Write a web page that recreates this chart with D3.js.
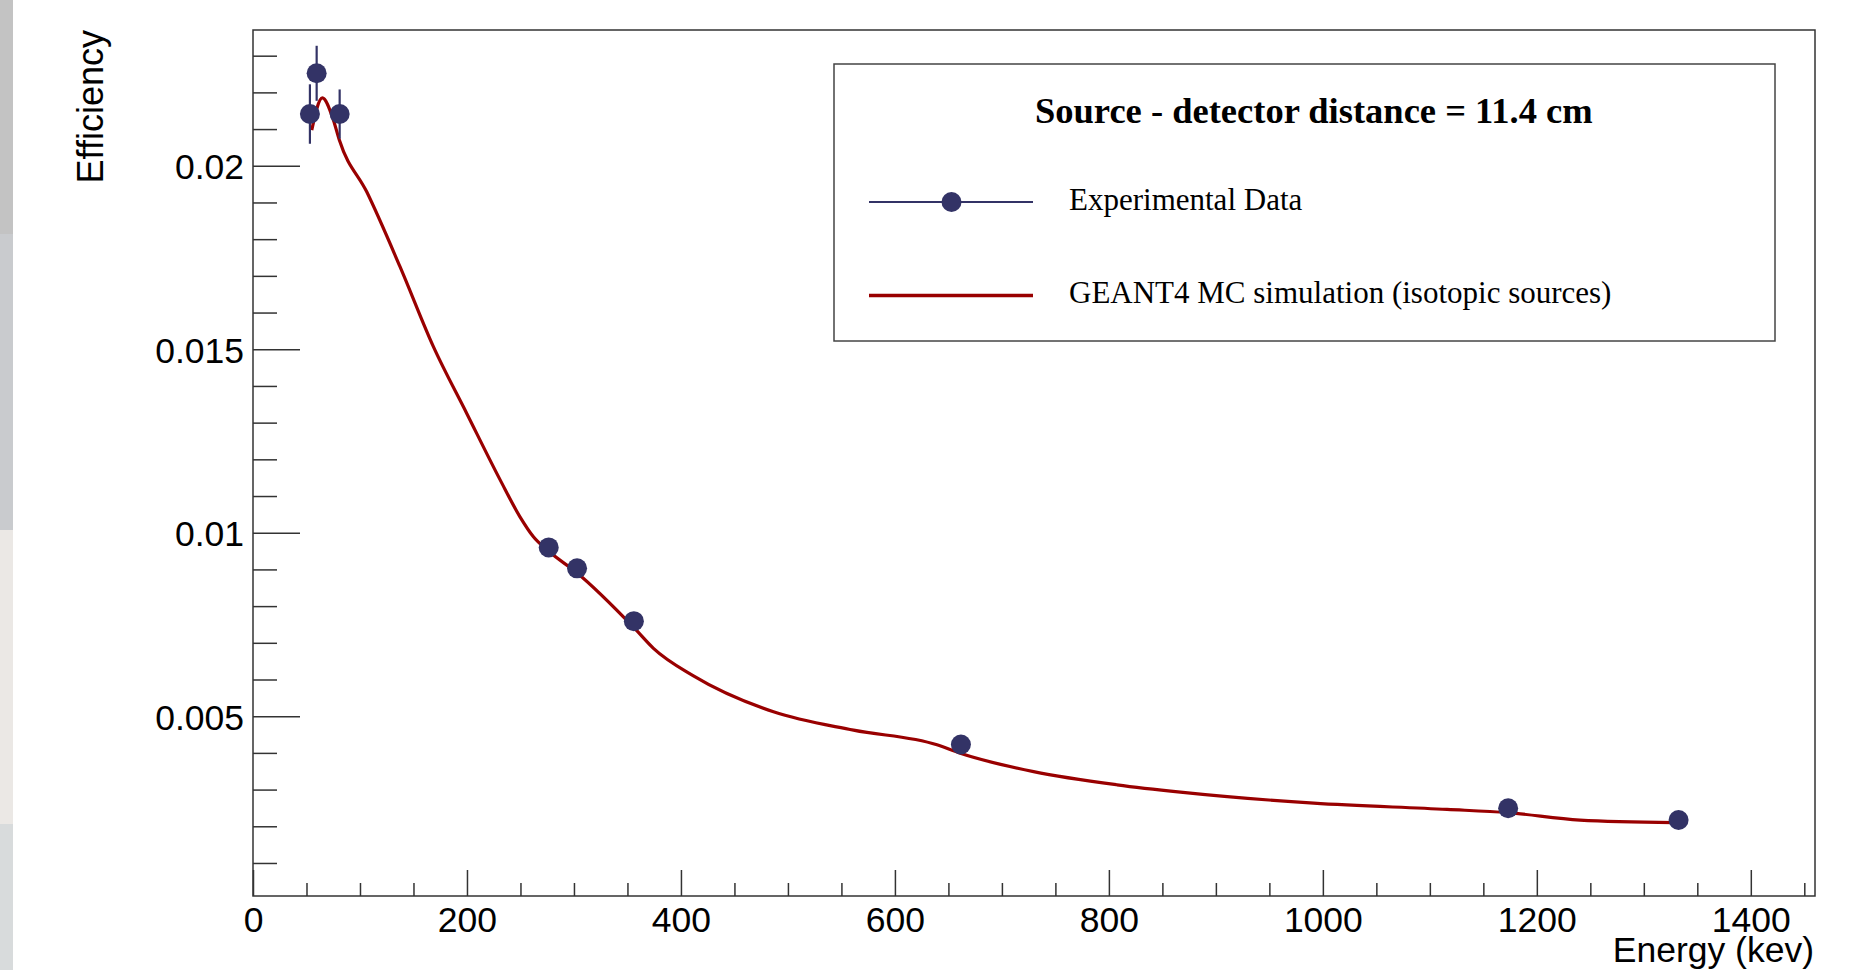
<!DOCTYPE html>
<html>
<head>
<meta charset="utf-8">
<script src="https://cdn.jsdelivr.net/npm/d3@7"></script>
<style>
  body { margin: 0; background: #ffffff; }
  svg { display: block; }
  .axis text { font-family: "Liberation Sans", Arial, sans-serif; font-size: 35.5px; fill: #000; }
  .axis line { stroke: #333; stroke-width: 1.5; }
</style>
</head>
<body>
<svg id="svg1" width="1872" height="970"></svg>
<script>
"use strict";

// experimental points (energy keV, efficiency, error)
const expEnergy = [53.2, 59.5, 81.0, 276.4, 302.9, 356.0, 661.7, 1173.2, 1332.5];
const expEff    = [0.02141, 0.02252, 0.02141, 0.00960, 0.00903, 0.00759, 0.00423, 0.00249, 0.00217];
const expErr    = [0.00081, 0.00075, 0.00067, 0.00020, 0.00020, 0.00020, 0.00010, 0.00010, 0.00010];

// GEANT4 simulation curve
const simEnergy = [54.9, 64.8, 75.1, 80.7, 106.3, 137.4, 168.6, 199.8, 231.0, 249.4, 262.1, 277.0,
                   302.7, 356.5, 374.3, 411.7, 486.5, 561.3, 639.3, 661.1, 729.6, 807.6, 866.8,
                   991.4, 1116.1, 1173.0, 1240.3, 1328.0];
const simEff    = [0.02097, 0.02185, 0.02125, 0.02070, 0.01929, 0.01725, 0.01507, 0.01325, 0.01144,
                   0.01044, 0.00989, 0.00948, 0.00891, 0.00740, 0.00685, 0.00610, 0.00512, 0.00462,
                   0.00422, 0.00399, 0.00349, 0.00313, 0.00293, 0.00263, 0.00246, 0.00237, 0.00217,
                   0.00210];

// axis ticks
const xMajor = [0, 200, 400, 600, 800, 1000, 1200, 1400];
const xMinor = d3.range(50, 1460, 50).filter(v => v % 200 != 0);
const yMajor = [0.005, 0.01, 0.015, 0.02];
const yMinor = d3.range(1, 24).map(v => v / 1000).filter(v => Math.round(v * 1000) % 5 != 0);

const svg    = d3.select("#svg1"),
      margin = {top: 30, right: 57, bottom: 74, left: 253},
      width  = +svg.attr("width")  - margin.left - margin.right,
      height = +svg.attr("height") - margin.top  - margin.bottom,
      x      = d3.scaleLinear().domain([0, 1460]).range([0, width]),
      y      = d3.scaleLinear().domain([0.0001, 0.0237]).range([height, 0]);

// grey strip of the background photo on the far left
const stripColors = ["#c3c3c3", "#c9cbce", "#ebe8e5", "#d8dbdc"];
const stripEdges  = [0, 234, 530, 824, 970];
svg.selectAll(".strip")
    .data(stripColors)
    .enter().append("rect")
    .attr("class", "strip")
    .attr("x", 0).attr("width", 13)
    .attr("y", (d, i) => stripEdges[i])
    .attr("height", (d, i) => stripEdges[i + 1] - stripEdges[i])
    .style("fill", d => d);

const g = svg.append("g").attr("transform", `translate(${margin.left},${margin.top})`);

// frame
g.append("rect")
    .attr("width", width).attr("height", height)
    .style("fill", "none").style("stroke", "#333").style("stroke-width", 1.5);

// x axis, ticks pointing inwards like ROOT
const xAxis = g.append("g")
    .attr("class", "axis")
    .attr("transform", `translate(0,${height})`)
    .call(d3.axisBottom(x).tickValues(xMajor).tickSize(-26).tickSizeOuter(0).tickPadding(11).tickFormat(d3.format("d")));
xAxis.select(".domain").remove();

const xAxisMinor = g.append("g")
    .attr("class", "axis")
    .attr("transform", `translate(0,${height})`)
    .call(d3.axisBottom(x).tickValues(xMinor).tickSize(-13).tickSizeOuter(0).tickFormat(""));
xAxisMinor.select(".domain").remove();

// y axis
const yAxis = g.append("g")
    .attr("class", "axis")
    .call(d3.axisLeft(y).tickValues(yMajor).tickSize(-47).tickSizeOuter(0).tickPadding(9).tickFormat(d => d3.format("")(+d.toFixed(3))));
yAxis.select(".domain").remove();
yAxis.selectAll("text").attr("dy", "0.37em");

const yAxisMinor = g.append("g")
    .attr("class", "axis")
    .call(d3.axisLeft(y).tickValues(yMinor).tickSize(-24).tickSizeOuter(0).tickFormat(""));
yAxisMinor.select(".domain").remove();

// simulation curve
const line = d3.line()
    .curve(d3.curveMonotoneX)
    .x(d => x(d[0]))
    .y(d => y(d[1]));

g.append("path")
    .datum(simEnergy.map((e, i) => [e, simEff[i]]))
    .attr("d", line)
    .style("fill", "none")
    .style("stroke", "#990000")
    .style("stroke-width", 3.2)
    .style("stroke-linejoin", "round");

// experimental data: error bars then markers
const expData = expEnergy.map((e, i) => ({e: e, eff: expEff[i], err: expErr[i]}));

g.selectAll(".errbar")
    .data(expData)
    .enter().append("line")
    .attr("class", "errbar")
    .attr("x1", d => x(d.e)).attr("x2", d => x(d.e))
    .attr("y1", d => y(d.eff - d.err)).attr("y2", d => y(d.eff + d.err))
    .style("stroke", "#333366")
    .style("stroke-width", 2.2);

g.selectAll(".dot")
    .data(expData)
    .enter().append("circle")
    .attr("class", "dot")
    .attr("cx", d => x(d.e))
    .attr("cy", d => y(d.eff))
    .attr("r", 10)
    .style("fill", "#333366");

// axis titles
svg.append("text")
    .attr("x", 1814).attr("y", 962)
    .style("text-anchor", "end")
    .style("font-family", "Liberation Sans, Arial, sans-serif")
    .style("font-size", "35.5px")
    .text("Energy (kev)");

svg.append("text")
    .attr("transform", "translate(103,30) rotate(-90)")
    .style("text-anchor", "end")
    .style("font-family", "Liberation Sans, Arial, sans-serif")
    .style("font-size", "36px")
    .text("Efficiency");

// legend, handmade
const leg = svg.append("g");
leg.append("rect")
    .attr("x", 834).attr("y", 64).attr("width", 941).attr("height", 277)
    .style("fill", "#fff").style("stroke", "#444").style("stroke-width", 1.5);

leg.append("text")
    .attr("x", 1035).attr("y", 123)
    .style("font-family", "Liberation Serif, Times New Roman, serif")
    .style("font-weight", "bold")
    .style("font-size", "36.5px")
    .text("Source - detector distance = 11.4 cm");

leg.append("line")
    .attr("x1", 869).attr("x2", 1033).attr("y1", 202).attr("y2", 202)
    .style("stroke", "#333366").style("stroke-width", 2);
leg.append("circle")
    .attr("cx", 951.5).attr("cy", 202).attr("r", 10)
    .style("fill", "#333366");
leg.append("text")
    .attr("x", 1069).attr("y", 210)
    .style("font-family", "Liberation Serif, Times New Roman, serif")
    .style("font-size", "31px")
    .text("Experimental Data");

leg.append("line")
    .attr("x1", 869).attr("x2", 1033).attr("y1", 295.5).attr("y2", 295.5)
    .style("stroke", "#990000").style("stroke-width", 3.5);
leg.append("text")
    .attr("x", 1069).attr("y", 303)
    .style("font-family", "Liberation Serif, Times New Roman, serif")
    .style("font-size", "31px")
    .text("GEANT4 MC simulation (isotopic sources)");
</script>
</body>
</html>
